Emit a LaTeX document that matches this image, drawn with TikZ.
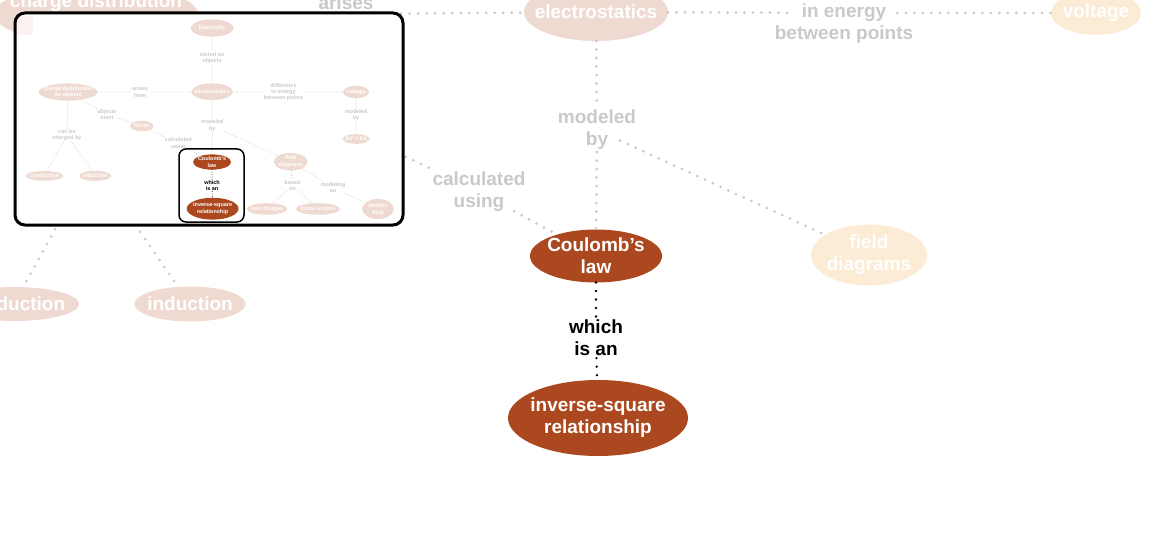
\documentclass[tikz,border=0pt]{standalone}
\usepackage{fontspec}
\setmainfont{Liberation Sans}
\usetikzlibrary{shapes.geometric}
\definecolor{pinkc}{HTML}{EFDAD1}
\definecolor{orangec}{HTML}{FCEBD5}
\definecolor{brownc}{HTML}{AB4820}
\definecolor{greyc}{HTML}{C9C9C9}
\definecolor{faintc}{HTML}{FBF3EF}
\tikzset{
  txt/.style={font=\fontsize{19}{22}\selectfont\bfseries, align=center},
  cpt/.style n args={3}{txt, ellipse, fill=#1, draw=none, minimum width=#2, minimum height=#3,
     inner xsep=-60pt, inner ysep=-30pt, outer sep=0pt, text=white},
  lbl/.style={txt, text=greyc, inner sep=2pt},
  blk/.style={txt, text=black, inner sep=2pt},
  conn/.style={greyc, line width=3pt, line cap=round, dash pattern=on 0pt off 8.5pt},
  bconn/.style={black, line width=2.6pt, line cap=round, dash pattern=on 0pt off 8.5pt},
  mconn/.style={greyc, line width=1pt, line cap=round, dash pattern=on 0pt off 2.5pt},
  mbconn/.style={black, line width=0.9pt, line cap=round, dash pattern=on 0pt off 2.5pt},
  frame/.style={black, line width=3pt, rounded corners=10pt},
  hilite/.style={black, line width=1.5pt, rounded corners=7pt}
}
\begin{document}
\begin{tikzpicture}[x=1pt,y=-1pt]
\useasboundingbox (0,0) rectangle (1173,559);
% ---------- main view ----------
\begin{scope}
\clip (0,0) rectangle (1173,559);
\node[cpt={pinkc}{204}{60}] (cd) at (96,14) {charge distribution\\on objects};
\node[cpt={pinkc}{144}{58}] (es) at (596,12) {electrostatics};
\node[cpt={orangec}{90}{44}] (volt) at (1096,13) {voltage};
\node[lbl] (arises) at (346,14) {arises\\from};
\node[lbl] (diff) at (844,13) {difference\\in energy\\between points};
\node[lbl] (mod) at (597,130) {modeled\\by};
\node[cpt={orangec}{116}{61}] (fd) at (869,255) {field\\diagrams};
\node[lbl] (calc) at (479,192) {calculated\\using};
\coordinate (forces) at (352,131);
\node[cpt={brownc}{132}{53}] (coul) at (596,256) {Coulomb's\\law};
\node[blk] (which) at (596,338) {which\\is an};
\node[cpt={brownc}{180}{76}] (inv) at (598,418) {inverse-square\\relationship};
\coordinate (charged) at (92,162);
\node[cpt={pinkc}{130}{34}] (cond) at (14,304) {conduction};
\node[cpt={pinkc}{111}{35}] (ind) at (190,304) {induction};
\draw[conn] (cd) -- (arises);
\draw[conn] (arises) -- (es);
\draw[conn, shorten >=-18pt] (es) -- (diff);
\draw[conn, shorten <=-18pt] (diff) -- (volt);
\draw[conn] (es) -- (mod);
\draw[conn] (mod) -- (coul);
\draw[conn, shorten <=-20pt] (mod) -- (fd);
\draw[conn] (forces) -- (calc);
\draw[conn, shorten <=-6pt] (calc) -- (coul);
\draw[bconn] (coul) -- (which);
\draw[bconn] (which) -- (inv);
\draw[conn] (charged) -- (cond);
\draw[conn] (charged) -- (ind);
\end{scope}
% ---------- minimap ----------
\fill[white] (15,13) [rounded corners=10pt] rectangle (403,225);
\begin{scope}
\clip (15,13) [rounded corners=10pt] rectangle (403,225);
\fill[faintc] (15,16) rectangle (33,35);
\begin{scope}[shift={(40.4,88.3)}, scale=0.288, transform shape, name prefix=m-]
\node[cpt={pinkc}{150}{60}] (elec) at (596,-209) {Electricity};
\node[lbl] (stored) at (596,-105) {stored on\\objects};
\node[cpt={pinkc}{204}{60}] (cd) at (96,13) {charge distribution\\on objects};
\node[cpt={pinkc}{144}{58}] (es) at (596,12) {electrostatics};
\node[cpt={pinkc}{90}{44}] (volt) at (1096,13) {voltage};
\node[lbl] (arises) at (346,13) {arises\\from};
\node[lbl] (diff) at (844,13) {difference\\in energy\\between points};
\node[lbl] (vmod) at (1096,94) {modeled\\by};
\node[cpt={pinkc}{92}{34}] (dv) at (1096,176) {Δ\textit{V} = \textit{Ed}};
\node[lbl] (exert) at (231,91) {objects\\exert};
\node[cpt={pinkc}{82}{36}] (forces) at (352,131) {forces};
\node[lbl] (mod) at (597,130) {modeled\\by};
\node[cpt={pinkc}{116}{61}] (fd) at (869,255) {field\\diagrams};
\node[lbl] (calc) at (479,192) {calculated\\using};
\node[cpt={brownc}{132}{53}] (coul) at (596,256) {Coulomb's\\law};
\node[blk] (which) at (596,338) {which\\is an};
\node[cpt={brownc}{180}{76}] (inv) at (598,418) {inverse-square\\relationship};
\node[lbl] (charged) at (92,162) {can be\\charged by};
\node[cpt={pinkc}{130}{34}] (cond) at (14,304) {conduction};
\node[cpt={pinkc}{111}{35}] (ind) at (190,304) {induction};
\node[lbl] (based) at (875,338) {based\\on};
\node[lbl] (modeling) at (1016,344) {modeling\\an};
\node[cpt={pinkc}{140}{40}] (tc) at (787,419) {test charges};
\node[cpt={pinkc}{152}{40}] (fv) at (964,419) {force vectors};
\node[cpt={pinkc}{110}{70}] (ef) at (1172,419) {electric\\field};
\draw[mconn] (elec) -- (stored);
\draw[mconn] (stored) -- (es);
\draw[mconn] (cd) -- (arises);
\draw[mconn] (arises) -- (es);
\draw[mconn] (es) -- (diff);
\draw[mconn] (diff) -- (volt);
\draw[mconn] (volt) -- (vmod);
\draw[mconn] (vmod) -- (dv);
\draw[mconn] (cd) -- (exert);
\draw[mconn] (exert) -- (forces);
\draw[mconn] (forces) -- (calc);
\draw[mconn] (calc) -- (coul);
\draw[mconn] (es) -- (mod);
\draw[mconn] (mod) -- (coul);
\draw[mconn] (mod) -- (fd);
\draw[mbconn] (coul) -- (which);
\draw[mbconn] (which) -- (inv);
\draw[mconn] (cd) -- (charged);
\draw[mconn] (charged) -- (cond);
\draw[mconn] (charged) -- (ind);
\draw[mconn] (fd) -- (based);
\draw[mconn] (based) -- (tc);
\draw[mconn] (based) -- (fv);
\draw[mconn] (fd) -- (modeling);
\draw[mconn] (modeling) -- (ef);
\end{scope}
\end{scope}
\draw[hilite] (179,149) rectangle (244,222);
\draw[frame] (15,13) rectangle (403,225);
\end{tikzpicture}
\end{document}
